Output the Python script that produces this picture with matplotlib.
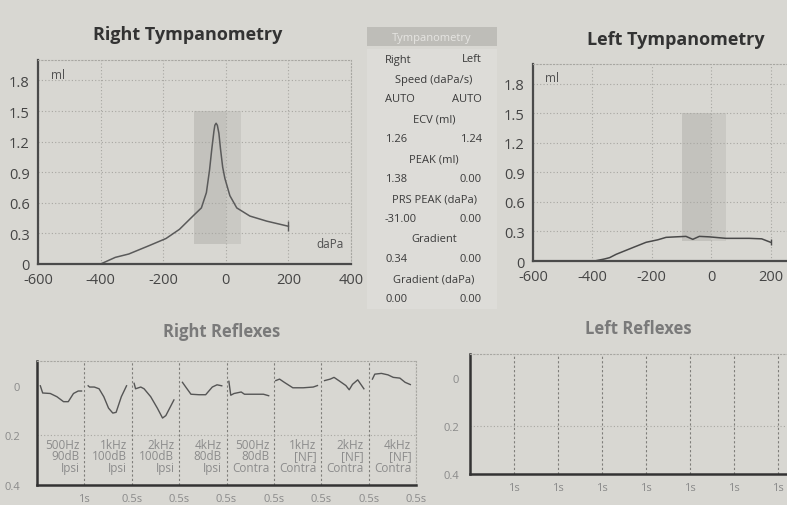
import matplotlib
matplotlib.use('Agg')
import matplotlib.pyplot as plt
from matplotlib.patches import Rectangle

plt.rcParams['font.family'] = ['Open Sans', 'DejaVu Sans']

# tympanometry curves (pressure daPa, compliance ml)
right_p = [-600, -400, -353, -310, -245, -191, -148, -105, -78, -62, -52, -45, -38, -35,
           -31, -27, -22, -17, -10, -3, 13, 35, 77, 131, 200]
right_v = [0.0, 0.0, 0.065, 0.098, 0.18, 0.25, 0.34, 0.47, 0.55, 0.70, 0.92, 1.12, 1.30, 1.36,
           1.38, 1.36, 1.28, 1.13, 0.95, 0.84, 0.67, 0.55, 0.47, 0.42, 0.37]
left_p = [-600, -393, -360, -342, -320, -264, -219, -180, -152, -120, -85, -62, -40, -6, 50, 128, 170, 200]
left_v = [0.0, 0.0, 0.02, 0.034, 0.068, 0.136, 0.19, 0.215, 0.24, 0.245, 0.25, 0.22, 0.25, 0.245,
          0.23, 0.23, 0.225, 0.19]

tymp_xticks = [-600, -400, -200, 0, 200, 400]
tymp_xlabels = ["-600", "-400", "-200", "0", "200", "400"]
tymp_yticks = [0, 0.3, 0.6, 0.9, 1.2, 1.5, 1.8]
tymp_ylabels = ["0", "0.3", "0.6", "0.9", "1.2", "1.5", "1.8"]

# table
table_params = ["Speed (daPa/s)", "ECV (ml)", "PEAK (ml)", "PRS PEAK (daPa)", "Gradient", "Gradient (daPa)"]
table_right = ["AUTO", "1.26", "1.38", "-31.00", "0.34", "0.00"]
table_left = ["AUTO", "1.24", "0.00", "0.00", "0.00", "0.00"]

# right reflexes: position inside each 1-unit segment and deflection
reflex_names = ["500Hz\n90dB\nIpsi", "1kHz\n100dB\nIpsi", "2kHz\n100dB\nIpsi", "4kHz\n80dB\nIpsi",
                "500Hz\n80dB\nContra", "1kHz\n[NF]\nContra", "2kHz\n[NF]\nContra", "4kHz\n[NF]\nContra"]
reflex_t = [
    [0.07, 0.12, 0.28, 0.42, 0.56, 0.66, 0.77, 0.87, 0.94],
    [0.08, 0.11, 0.21, 0.31, 0.41, 0.51, 0.60, 0.67, 0.78, 0.89],
    [0.05, 0.08, 0.19, 0.26, 0.40, 0.54, 0.65, 0.72, 0.89],
    [0.07, 0.14, 0.25, 0.42, 0.56, 0.70, 0.80, 0.90],
    [0.05, 0.09, 0.16, 0.31, 0.38, 0.60, 0.78, 0.89],
    [0.04, 0.12, 0.22, 0.40, 0.62, 0.83, 0.92],
    [0.07, 0.19, 0.27, 0.37, 0.52, 0.59, 0.66, 0.77, 0.90],
    [0.08, 0.13, 0.27, 0.41, 0.52, 0.66, 0.77, 0.88],
]
reflex_v = [
    [0.0, 0.029, 0.031, 0.044, 0.064, 0.064, 0.031, 0.021, 0.021],
    [0.0, 0.005, 0.005, 0.012, 0.044, 0.09, 0.11, 0.107, 0.044, 0.0],
    [-0.01, 0.012, 0.005, 0.012, 0.044, 0.09, 0.13, 0.12, 0.057],
    [-0.014, 0.005, 0.034, 0.036, 0.036, 0.005, -0.004, 0.0],
    [-0.018, 0.038, 0.031, 0.025, 0.034, 0.034, 0.034, 0.04],
    [-0.021, -0.027, -0.014, 0.008, 0.008, 0.005, -0.001],
    [-0.021, -0.027, -0.034, -0.021, -0.001, 0.016, -0.006, -0.024, 0.012],
    [-0.027, -0.047, -0.05, -0.044, -0.034, -0.031, -0.014, -0.005],
]
right_reflex_xlabels = ["1s", "0.5s", "0.5s", "0.5s", "0.5s", "0.5s", "0.5s", "0.5s"]
left_reflex_xlabels = ["1s", "1s", "1s", "1s", "1s", "1s", "1s", "1s"]
reflex_yticks = [0, 0.2, 0.4]
reflex_ylabels = ["0", "0.2", "0.4"]

BG = '#d8d7d2'
GRID = '#a8a7a2'
W, H = 787, 506


def box(l, t, r, b):
    return [l / W, 1 - b / H, (r - l) / W, (b - t) / H]


def fx(x):
    return x / W


def fy(y):
    return 1 - y / H


fig = plt.figure(figsize=(W / 100, H / 100), dpi=100)
fig.patch.set_facecolor(BG)


def style_tymp(ax, xlabels):
    ax.set_facecolor(BG)
    ax.set_xlim(-600, 400)
    ax.set_ylim(0, 2.0)
    ax.set_xticks(tymp_xticks, xlabels)
    ax.set_yticks(tymp_yticks, tymp_ylabels)
    ax.tick_params(length=0, labelsize=10.5, colors='#454545', pad=6)
    ax.grid(True, ls=(0, (1, 2)), color=GRID, lw=0.8)
    for s in ['left', 'bottom']:
        ax.spines[s].set_color('#4a4a4a')
        ax.spines[s].set_linewidth(1.6)
    for s in ['top', 'right']:
        ax.spines[s].set_color(GRID)
        ax.spines[s].set_linestyle((0, (1, 2)))
        ax.spines[s].set_linewidth(0.8)
    ax.add_patch(Rectangle((-100, 0.2), 100, 1.3, color='#c3c2bd', zorder=0.5, lw=0))
    ax.add_patch(Rectangle((0, 0.2), 50, 1.3, color='#cac9c4', zorder=0.5, lw=0))
    ax.text(0.04, 0.93, "ml", transform=ax.transAxes, fontsize=8.5, color='#505050', va='center')


# right tympanometry
ax1 = fig.add_axes(box(38, 61, 351, 265))
style_tymp(ax1, tymp_xlabels)
ax1.plot(right_p, right_v, color='#5a5a5a', lw=1.1)
ax1.plot(right_p[-1], right_v[-1], marker='|', ms=7, color='#5a5a5a')
ax1.text(0.978, 0.085, "daPa", transform=ax1.transAxes, fontsize=8.5, color='#505050', ha='right')
fig.text(fx(188), fy(35), "Right Tympanometry", fontsize=13, fontweight='bold', color='#333333',
         ha='center', va='center')

# left tympanometry (cut by the right edge of the page, 400 label not visible)
ax2 = fig.add_axes(box(533, 65, 830, 262))
style_tymp(ax2, tymp_xlabels[:-1] + [""])
ax2.plot(left_p, left_v, color='#4a4a4a', lw=1.1)
ax2.plot(left_p[-1], left_v[-1], marker='|', ms=5, color='#4a4a4a')
fig.text(fx(676), fy(40), "Left Tympanometry", fontsize=13, fontweight='bold', color='#333333',
         ha='center', va='center')

# center table
fig.add_artist(Rectangle((fx(367), fy(310)), (497 - 367) / W, 260 / H, transform=fig.transFigure,
                         color='#dddcd8', lw=0, zorder=0))
fig.add_artist(Rectangle((fx(367), fy(47)), (497 - 367) / W, 19 / H, transform=fig.transFigure,
                         color='#bebdb8', lw=0, zorder=0))
fig.text(fx(432), fy(38), "Tympanometry", fontsize=8, color='#e6e5e2', ha='center', va='center')
ts = dict(fontsize=8, color='#3a3a3a', va='center')
fig.text(fx(385), fy(60), "Right", ha='left', **ts)
fig.text(fx(482), fy(60), "Left", ha='right', **ts)
for i, name in enumerate(table_params):
    y0 = 80 + 40 * i
    fig.text(fx(434), fy(y0), name, ha='center', **ts)
    fig.text(fx(385), fy(y0 + 20), table_right[i], ha='left', **ts)
    fig.text(fx(482), fy(y0 + 20), table_left[i], ha='right', **ts)


def style_reflex(ax, xlabels, pad):
    ax.set_facecolor(BG)
    ax.set_xlim(0, 8)
    ax.set_ylim(0.4, -0.1)
    ax.set_xticks(range(1, 9), xlabels)
    ax.set_yticks(reflex_yticks, reflex_ylabels)
    ax.tick_params(length=0, labelsize=8, colors='#8a8a8a')
    ax.tick_params(axis='y', pad=pad)
    ax.tick_params(axis='x', pad=6)
    for k in range(1, 9):
        ax.axvline(k, color='#7e7d79', ls=(0, (2, 2)), lw=0.8)
    ax.axhline(0.2, color=GRID, ls=(0, (1, 2)), lw=0.8)
    for s in ['left', 'bottom']:
        ax.spines[s].set_color('#333333')
        ax.spines[s].set_linewidth(1.8)
    for s in ['top', 'right']:
        ax.spines[s].set_color(GRID)
        ax.spines[s].set_linestyle((0, (1, 2)))
        ax.spines[s].set_linewidth(0.8)


# right reflexes
ax3 = fig.add_axes(box(37, 362, 416, 486))
style_reflex(ax3, right_reflex_xlabels, 12)
for i in range(8):
    ax3.plot([i + t for t in reflex_t[i]], reflex_v[i], color='#555555', lw=1.0)
    ax3.text(i + 0.9, 0.21, reflex_names[i], ha='right', va='top', fontsize=8.5,
             color='#8c8c8c', linespacing=0.85)
fig.text(fx(222), fy(332), "Right Reflexes", fontsize=12, fontweight='bold', color='#7a7a7a',
         ha='center', va='center')

# left reflexes (continues past the right edge of the page)
ax4 = fig.add_axes(box(470, 355, 822, 475))
style_reflex(ax4, left_reflex_xlabels[:7] + [""], 8)
fig.text(fx(638), fy(329), "Left Reflexes", fontsize=12, fontweight='bold', color='#7a7a7a',
         ha='center', va='center')

fig.savefig("out.png", dpi=100, facecolor=BG)
